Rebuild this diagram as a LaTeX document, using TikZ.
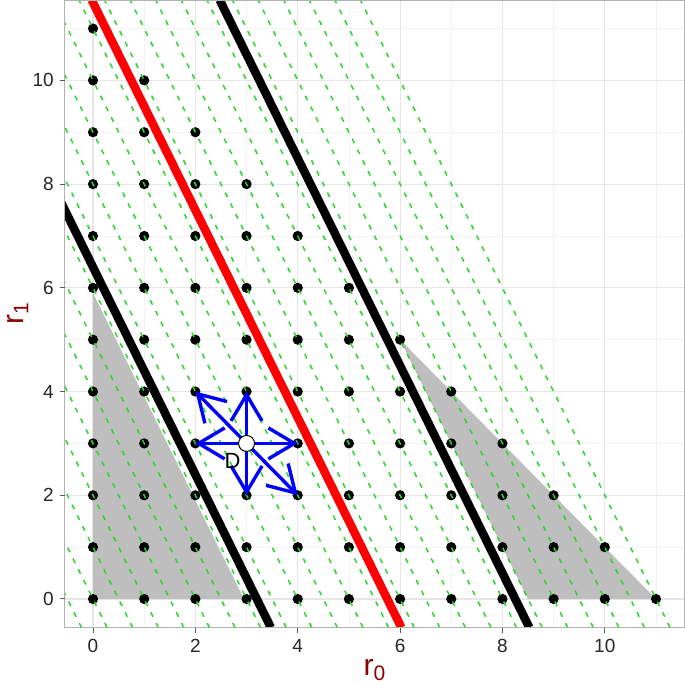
\documentclass[tikz,border=0pt]{standalone}
\usepackage{fontspec}
\setmainfont{Liberation Sans}
\usetikzlibrary{arrows.meta}
\definecolor{gline}{RGB}{40,215,40}
\definecolor{titlered}{RGB}{139,0,0}
\definecolor{greyfill}{RGB}{190,190,190}
\definecolor{gmaj}{RGB}{230,230,230}
\definecolor{gmin}{RGB}{243,243,243}
\begin{document}
\begin{tikzpicture}[x=51.18pt,y=51.86pt,
  dot/.style={circle,fill=black,inner sep=0pt,minimum size=10.2pt},
  ticklab/.style={font=\fontsize{19}{19}\selectfont,text=black!85,inner sep=0pt},
  tickmark/.style={draw=black!65,line width=1pt},
  gridmaj/.style={draw=gmaj,line width=1.1pt},
  gridmin/.style={draw=gmin,line width=0.8pt},
  guide/.style={draw=gline,line width=1.5pt,dash pattern=on 5pt off 7pt},
  bound/.style={line width=8.5pt},
  move/.style={draw=blue,line width=3.4pt,-{Straight Barb[length=26pt,width=31pt]}},
  axtitle/.style={font=\fontsize{30}{30}\selectfont,text=titlered,inner sep=0pt,anchor=base}
  ]
\useasboundingbox (-93pt,-86pt) rectangle (592pt,599pt);
\fill[white] (-93pt,-86pt) rectangle (592pt,599pt);
\begin{scope}
  \clip (-0.55,-0.55) rectangle (11.55,11.55);
  \foreach \v in {1,3,...,11} {
    \draw[gridmin] (\v,-0.55) -- (\v,11.55);
    \draw[gridmin] (-0.55,\v) -- (11.55,\v);
  }
  \foreach \v in {0,2,...,10} {
    \draw[gridmaj] (\v,-0.55) -- (\v,11.55);
    \draw[gridmaj] (-0.55,\v) -- (11.55,\v);
  }
  \fill[greyfill] (0,0) -- (0,5.9) -- (2.95,0) -- cycle;
  \fill[greyfill] (6,5) -- (11,0) -- (8.5,0) -- cycle;
  \foreach \i in {0,...,11} {
    \pgfmathtruncatemacro{\jmax}{11-\i}
    \foreach \j in {0,...,\jmax} {
      \node[dot] (p\i-\j) at (\i,\j) {};
    }
  }
  \foreach \k in {-1,...,22} {
    \draw[guide] ({\k/2+0.275},-0.55) -- ({\k/2-5.775},11.55);
  }
  \draw[bound,black] (3.475,-0.55) -- (-2.575,11.55);
  \draw[bound,red] (6.025,-0.55) -- (-0.025,11.55);
  \draw[bound,black] (8.525,-0.55) -- (2.475,11.55);
\end{scope}
\draw[black!30,line width=1pt] (-0.55,-0.55) rectangle (11.55,11.55);
% moves
\draw[move] (p3-3.center) -- (p2-4.center);
\draw[move] (p3-3.center) -- (p3-4.center);
\draw[move] (p3-3.center) -- (p2-3.center);
\draw[move] (p3-3.center) -- (p4-3.center);
\draw[move] (p3-3.center) -- (p3-2.center);
\draw[move] (p3-3.center) -- (p4-2.center);
\node[circle,fill=white,draw=black,line width=1pt,inner sep=0pt,minimum size=16pt] (d) at (3,3) {};
\node[font=\fontsize{22}{22}\selectfont,inner sep=0pt] (dlab) at (2.726,2.67) {D};
% axes
\foreach \v in {0,2,...,10} {
  \draw[tickmark] (\v,-0.55) -- (\v,-0.6464);
  \draw[tickmark] (-0.55,\v) -- (-0.6477,\v);
  \node[ticklab] (xl\v) at (\v,-0.8966) {\v};
  \node[ticklab,anchor=east] (yl\v) at (-0.762,\v) {\v};
}
\node[axtitle] (xt) at (5.5,-1.4655) {r{\fontsize{21}{21}\selectfont\raisebox{-5pt}{0}}};
\node[axtitle,rotate=90] (yt) at (-1.36,5.5) {r{\fontsize{21}{21}\selectfont\raisebox{-5pt}{1}}};
\end{tikzpicture}
\end{document}
